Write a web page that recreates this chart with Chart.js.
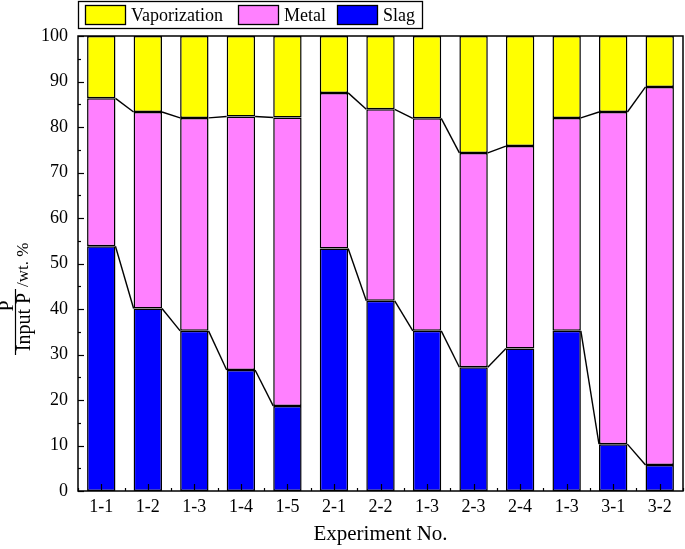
<!DOCTYPE html>
<html>
<head>
<meta charset="utf-8">
<script src="https://cdn.jsdelivr.net/npm/chart.js@4.4.1/dist/chart.umd.min.js"></script>
<style>
  html, body { margin: 0; padding: 0; background: #fff; }
  #wrap { width: 685px; height: 549px; }
</style>
</head>
<body>
<div id="wrap"><canvas id="chart"></canvas></div>
<script>
const experiments = ["1-1", "1-2", "1-3", "1-4", "1-5", "2-1", "2-2", "1-3", "2-3", "2-4", "1-3", "3-1", "3-2"];
const slag = [53.8, 40.1, 35.2, 26.6, 18.7, 53.3, 41.8, 35.2, 27.2, 31.3, 35.2, 10.3, 5.7];
const metal = [32.5, 43.2, 46.8, 55.7, 63.4, 34.2, 42.1, 46.7, 47.1, 44.5, 46.8, 73.0, 83.1];
const vaporization = [13.7, 16.7, 18.0, 17.7, 17.9, 12.5, 16.1, 18.1, 25.7, 24.2, 18.0, 16.7, 11.2];
// bars joined by connector lines
const groups = [[0, 4], [5, 9], [10, 12]];
const yMin = 0, yMax = 100, yStep = 10;

const FONT = "'Liberation Serif', 'Times New Roman', serif";
const EDGE = "#000";

const seriesStyle = [
    { label: "Slag", color: "#0000ff" },
    { label: "Metal", color: "#ff80ff" },
    { label: "Vaporization", color: "#ffff00" },
];

// legend box, frame, inward ticks, connectors and y title
const decor = {
    id: "decor",
    afterDatasetsDraw(chart) {
        const c = chart.ctx;
        const area = chart.chartArea;
        const y = chart.scales.y;
        c.save();
        c.strokeStyle = EDGE;

        // connector lines between neighbouring bars
        c.lineWidth = 1.4;
        [0, 1].forEach(function (d) {
            const bars = chart.getDatasetMeta(d).data;
            groups.forEach(function (g) {
                for (let i = g[0]; i < g[1]; i++) {
                    const a = bars[i], b = bars[i + 1];
                    c.beginPath();
                    c.moveTo(a.x + a.width / 2, a.y);
                    c.lineTo(b.x - b.width / 2, b.y);
                    c.stroke();
                }
            });
        });

        // frame
        c.lineWidth = 1.5;
        c.strokeRect(area.left, area.top, area.right - area.left, area.bottom - area.top);

        // y ticks (inward)
        c.lineWidth = 1.2;
        for (let v = yMin; v <= yMax; v += yStep / 2) {
            const py = Math.round(y.getPixelForValue(v)) + 0.5;
            const len = (v % yStep === 0) ? 6 : 3;
            c.beginPath();
            c.moveTo(area.left, py);
            c.lineTo(area.left + len, py);
            c.stroke();
        }
        // x ticks (inward), major at bars, minor between
        const step = (area.right - area.left) / experiments.length;
        for (let i = 0; i <= experiments.length * 2; i++) {
            const px = Math.round(area.left + i * step / 2) + 0.5;
            const len = (i % 2 === 1) ? 7 : 3;
            c.beginPath();
            c.moveTo(px, area.bottom);
            c.lineTo(px, area.bottom - len);
            c.stroke();
        }

        // legend
        c.lineWidth = 1.3;
        c.strokeRect(78.5, 1.5, 344, 27);
        const items = [
            { label: "Vaporization", color: "#ffff00", sx: 85, tx: 131 },
            { label: "Metal", color: "#ff80ff", sx: 238, tx: 284 },
            { label: "Slag", color: "#0000ff", sx: 337, tx: 383 },
        ];
        c.font = "18px " + FONT;
        c.textBaseline = "middle";
        c.textAlign = "left";
        items.forEach(function (it) {
            c.fillStyle = it.color;
            c.fillRect(it.sx, 5.5, 41, 19);
            c.strokeRect(it.sx + 0.5, 5.5, 40, 19);
            c.fillStyle = "#000";
            c.fillText(it.label, it.tx, 16);
        });
        c.restore();

        // y axis title: P / Input P  /wt.%  (rotated, reads bottom to top)
        c.save();
        c.setTransform(0, -1, 1, 0, 0, 322);
        c.fillStyle = "#000";
        c.strokeStyle = "#000";
        c.textBaseline = "alphabetic";
        c.font = "20px " + FONT;
        c.textAlign = "center";
        c.fillText("P", 16, 13);
        c.fillText("Input P", 0, 30);
        c.lineWidth = 1.2;
        c.beginPath();
        c.moveTo(-33, 15.5);
        c.lineTo(33, 15.5);
        c.stroke();
        c.font = "17px " + FONT;
        c.textAlign = "left";
        c.fillText("/wt. %", 35, 28);
        c.restore();
    },
};

const chart = new Chart(document.getElementById("chart"), {
    type: "bar",
    data: {
        labels: experiments,
        datasets: [slag, metal, vaporization].map(function (vals, k) {
            return {
                label: seriesStyle[k].label,
                data: vals,
                backgroundColor: seriesStyle[k].color,
                borderColor: EDGE,
                borderWidth: 1.5,
                borderSkipped: false,
                barPercentage: 0.61,
                categoryPercentage: 1,
            };
        }),
    },
    options: {
        responsive: true,
        maintainAspectRatio: false,
        animation: false,
        layout: { padding: { top: 36, right: 2, left: 0, bottom: 0 } },
        plugins: {
            legend: { display: false },
            tooltip: { enabled: false },
        },
        scales: {
            x: {
                stacked: true,
                grid: { display: false, drawTicks: false },
                border: { display: false },
                ticks: { color: "#000", font: { family: FONT, size: 18 }, padding: 5, maxRotation: 0, autoSkip: false },
                title: {
                    display: true,
                    text: "Experiment No.",
                    color: "#000",
                    font: { family: FONT, size: 21 },
                    padding: { top: 0, bottom: 2 },
                },
                afterFit: function (s) { s.height = 58; },
            },
            y: {
                stacked: true,
                min: yMin,
                max: yMax,
                grid: { display: false, drawTicks: false },
                border: { display: false },
                ticks: { stepSize: yStep, color: "#000", font: { family: FONT, size: 18 }, padding: 10 },
                afterFit: function (s) { s.width = 78; },
            },
        },
    },
    plugins: [decor],
});
</script>
</body>
</html>
